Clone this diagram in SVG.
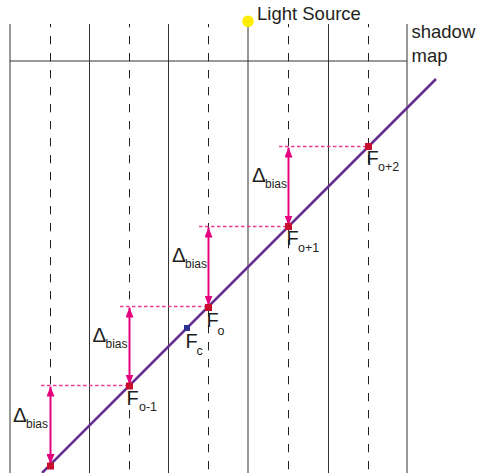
<svg xmlns="http://www.w3.org/2000/svg" width="481" height="473" viewBox="0 0 481 473">
<style>
.grid{stroke:#333;stroke-width:1;fill:none}
.dash{stroke:#222;stroke-width:1;stroke-dasharray:8.3 8.7;stroke-dashoffset:5;fill:none}
.hd{stroke:#ec3d96;stroke-width:1.4;stroke-dasharray:3.5 2.5;fill:none}
.arr{stroke:#e6007e;stroke-width:2;fill:none;marker-start:url(#ah);marker-end:url(#ah)}
.pt{fill:#c8102e}
.t{font-family:"Liberation Sans",Arial,sans-serif;fill:#231f20}
.F{font-size:20px}
.s{font-size:12.5px}
.D{font-size:20.5px}
.b{font-size:12px}
</style>
<defs>
<marker id="ah" viewBox="0 0 10 8" refX="10" refY="4" markerWidth="10" markerHeight="8" markerUnits="userSpaceOnUse" orient="auto-start-reverse">
<path d="M0,0 L10,4 L0,8 Z" fill="#e6007e"/>
</marker>
</defs>
<g id="grid">
<line class="grid" x1="10" y1="24" x2="10" y2="473"/>
<line class="grid" x1="89.5" y1="24" x2="89.5" y2="473"/>
<line class="grid" x1="168.5" y1="24" x2="168.5" y2="473"/>
<line class="grid" x1="248" y1="24" x2="248" y2="473"/>
<line class="grid" x1="328.5" y1="24" x2="328.5" y2="473"/>
<line class="grid" x1="407" y1="24" x2="407" y2="473"/>
<line class="grid" x1="10" y1="61" x2="407" y2="61"/>
<line class="dash" x1="50.5" y1="24" x2="50.5" y2="473"/>
<line class="dash" x1="129.5" y1="24" x2="129.5" y2="473"/>
<line class="dash" x1="208.5" y1="24" x2="208.5" y2="473"/>
<line class="dash" x1="288.5" y1="24" x2="288.5" y2="473"/>
<line class="dash" x1="368.5" y1="24" x2="368.5" y2="473"/>
</g>
<g id="light-source">
<circle cx="248" cy="21.3" r="5.8" fill="#ffed00"/>
<text class="t" x="257" y="20" font-size="18.5px">Light Source</text>
</g>
<g id="shadow-map">
<text class="t" x="411.5" y="38" font-size="18.5px">shadow</text>
<text class="t" x="411.5" y="62" font-size="18.5px">map</text>
</g>
<g id="connectors">
<line x1="436" y1="79" x2="42" y2="473" stroke="#662d91" stroke-width="2.5"/>
<line class="hd" x1="279" y1="146.5" x2="368" y2="146.5"/>
<line class="hd" x1="199" y1="226.5" x2="288" y2="226.5"/>
<line class="hd" x1="120" y1="306.5" x2="208" y2="306.5"/>
<line class="hd" x1="41" y1="385.5" x2="129" y2="385.5"/>
<line class="arr" x1="288.5" y1="147.5" x2="288.5" y2="225.5"/>
<line class="arr" x1="208.5" y1="227.5" x2="208.5" y2="305.5"/>
<line class="arr" x1="129.5" y1="307.5" x2="129.5" y2="384.5"/>
<line class="arr" x1="50.5" y1="386.5" x2="50.5" y2="464"/>
</g>
<g id="F-o2">
<rect class="pt" x="365" y="143" width="7" height="7"/>
<text class="t F" x="366.5" y="164.5">F</text><text class="t s" x="378" y="170.5">o+2</text>
</g>
<g id="F-o1">
<rect class="pt" x="285" y="223" width="7" height="7"/>
<text class="t F" x="286.5" y="245">F</text><text class="t s" x="298" y="251.5">o+1</text>
</g>
<g id="F-o">
<rect class="pt" x="205" y="304" width="7" height="7"/>
<text class="t F" x="206.5" y="327">F</text><text class="t s" x="217.5" y="334.5">o</text>
</g>
<g id="F-c">
<rect x="184" y="325" width="6" height="6" fill="#2e3192"/>
<text class="t F" x="185.5" y="348">F</text><text class="t s" x="196.5" y="355">c</text>
</g>
<g id="F-om1">
<rect class="pt" x="126" y="382.5" width="7" height="7"/>
<text class="t F" x="126.5" y="404.5">F</text><text class="t s" x="139" y="410.5">o-1</text>
</g>
<g id="F-om2">
<rect class="pt" x="47" y="462.5" width="7" height="7"/>
</g>
<g id="bias-1">
<text class="t D" x="252" y="182">Δ</text><text class="t b" x="265" y="188">bias</text>
</g>
<g id="bias-2">
<text class="t D" x="172" y="262">Δ</text><text class="t b" x="185" y="268">bias</text>
</g>
<g id="bias-3">
<text class="t D" x="92.5" y="342">Δ</text><text class="t b" x="105.5" y="348">bias</text>
</g>
<g id="bias-4">
<text class="t D" x="13" y="422">Δ</text><text class="t b" x="26" y="428">bias</text>
</g>
</svg>
